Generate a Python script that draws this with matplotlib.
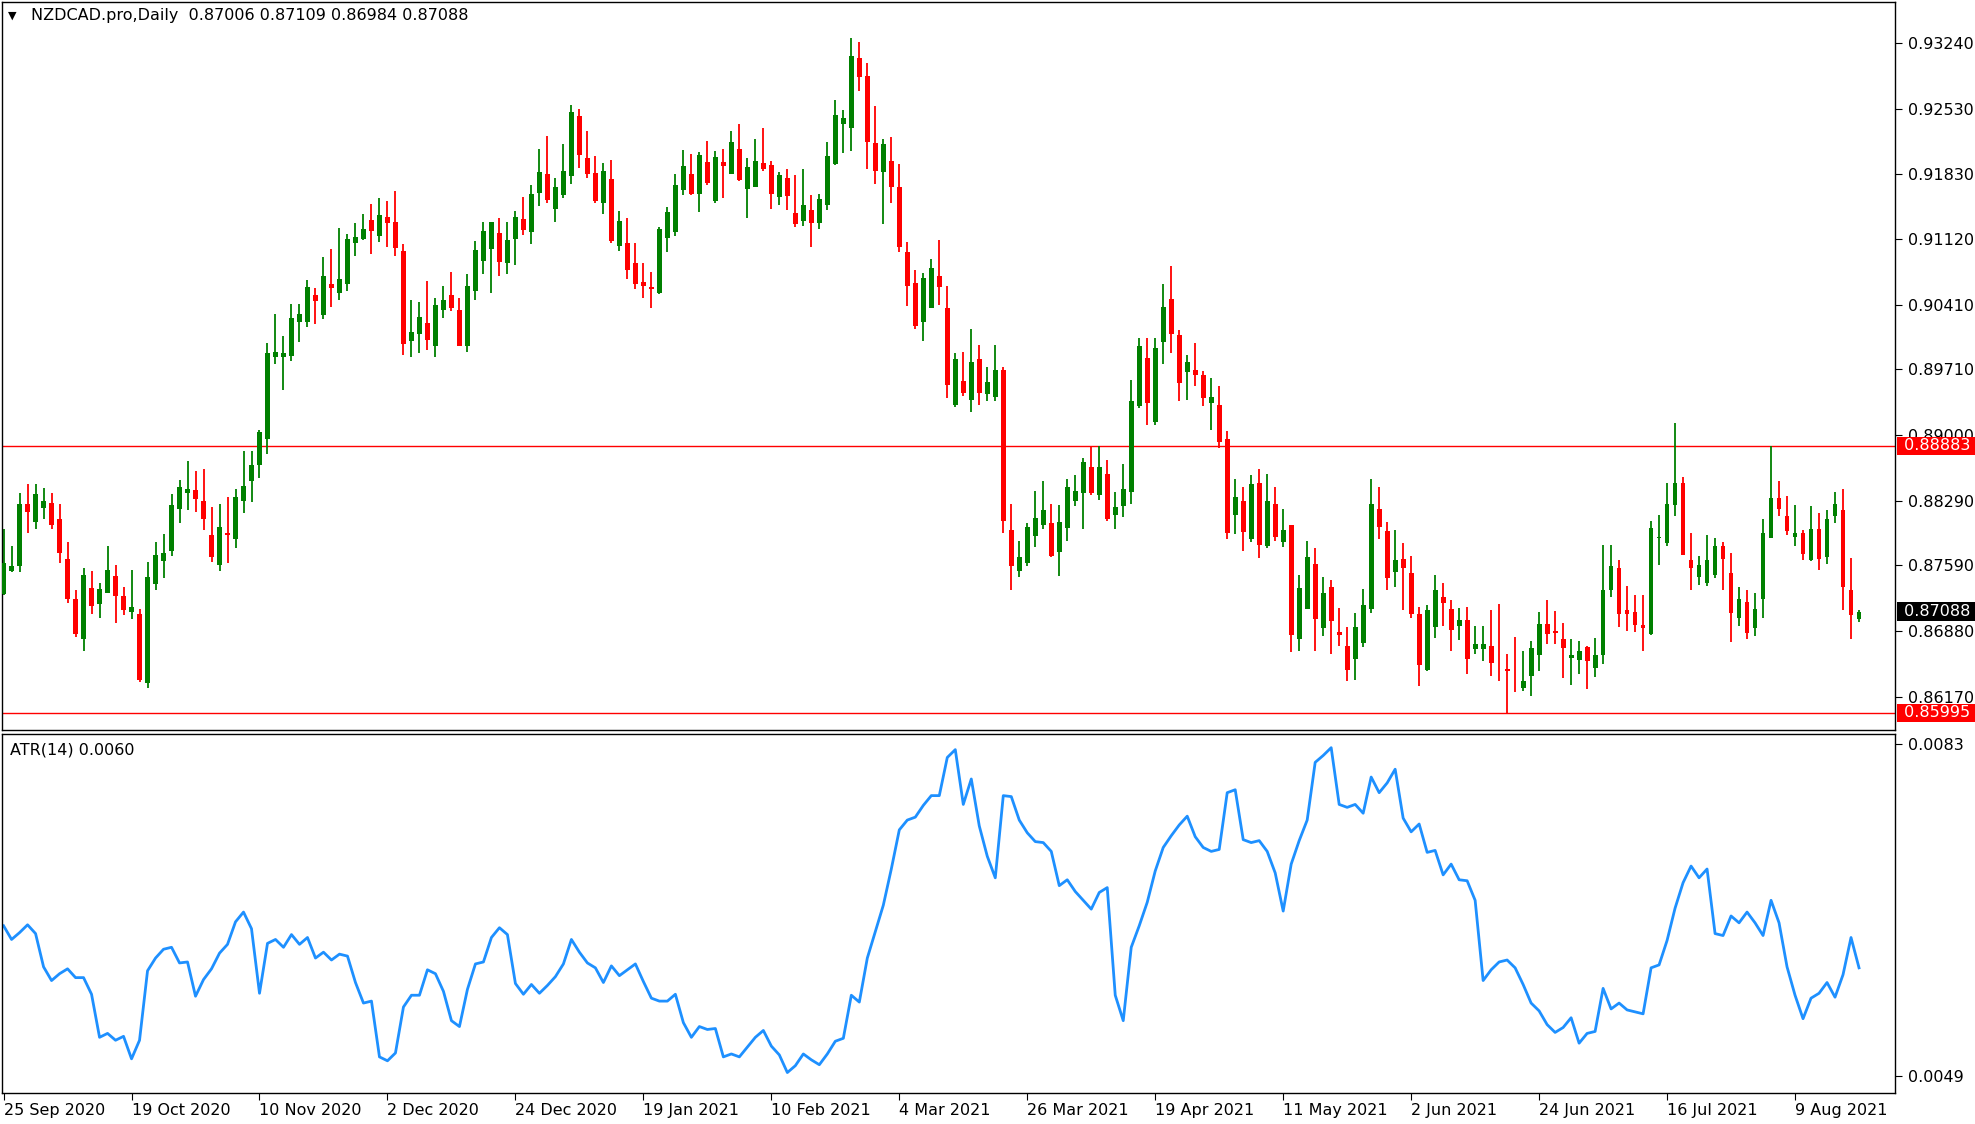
import matplotlib
matplotlib.use("Agg")
import matplotlib.pyplot as plt
import matplotlib.transforms as mtransforms
import numpy as np

# NZDCAD daily, prices in units of 0.0001
opens = [
    8728, 8753, 8758, 8825, 8806, 8821, 8827, 8809, 8766, 8723,
    8679, 8735, 8717, 8729, 8748, 8726, 8709, 8707, 8632, 8739,
    8764, 8775, 8820, 8837, 8841, 8829, 8792, 8759, 8794, 8788,
    8829, 8850, 8868, 8896, 8985, 8985, 8986, 9022, 9022, 9052,
    9030, 9064, 9054, 9063, 9108, 9112, 9133, 9115, 9136, 9131,
    9099, 9002, 9009, 9021, 8996, 9035, 9052, 9035, 8996, 9056,
    9088, 9101, 9119, 9086, 9112, 9134, 9120, 9162, 9182, 9145,
    9160, 9180, 9245, 9200, 9184, 9151, 9177, 9105, 9108, 9086,
    9066, 9060, 9054, 9113, 9120, 9165, 9183, 9161, 9195, 9153,
    9195, 9183, 9209, 9166, 9168, 9194, 9192, 9158, 9178, 9140,
    9132, 9143, 9129, 9149, 9193, 9237, 9232, 9308, 9289, 9216,
    9185, 9196, 9168, 9098, 9065, 9022, 9037, 9072, 9037, 8933,
    8959, 8938, 8982, 8944, 8941, 8970, 8797, 8753, 8762, 8791,
    8803, 8805, 8774, 8800, 8829, 8837, 8866, 8835, 8858, 8814,
    8823, 8838, 8932, 8983, 8914, 9001, 9047, 9008, 8968, 8970,
    8965, 8935, 8933, 8896, 8814, 8829, 8788, 8848, 8780, 8826,
    8784, 8803, 8679, 8712, 8761, 8691, 8736, 8687, 8672, 8658,
    8675, 8712, 8820, 8796, 8752, 8766, 8751, 8706, 8646, 8692,
    8725, 8712, 8694, 8700, 8669, 8669, 8672, 8654, 8647, 8641,
    8626, 8639, 8662, 8696, 8688, 8679, 8659, 8657, 8671, 8648,
    8662, 8733, 8756, 8711, 8709, 8695, 8685, 8789, 8783, 8824,
    8848, 8765, 8746, 8740, 8749, 8780, 8751, 8702, 8719, 8691,
    8723, 8789, 8832, 8812, 8790, 8794, 8765, 8798, 8768, 8813,
    8819, 8733, 8700.6,
]
highs = [
    8798, 8780, 8837, 8847, 8847, 8843, 8837, 8826, 8784, 8733,
    8756, 8753, 8740, 8780, 8759, 8736, 8754, 8712, 8763, 8784,
    8793, 8836, 8851, 8872, 8861, 8863, 8822, 8825, 8833, 8842,
    8883, 8883, 8906, 9000, 9031, 9007, 9042, 9042, 9068, 9059,
    9093, 9101, 9124, 9118, 9129, 9139, 9150, 9156, 9153, 9164,
    9107, 9046, 9044, 9067, 9048, 9061, 9076, 9048, 9074, 9110,
    9130, 9131, 9135, 9131, 9142, 9158, 9171, 9209, 9224, 9178,
    9215, 9257, 9253, 9229, 9202, 9194, 9198, 9142, 9135, 9108,
    9086, 9076, 9125, 9147, 9183, 9208, 9204, 9206, 9218, 9207,
    9210, 9229, 9237, 9200, 9220, 9232, 9196, 9185, 9188, 9181,
    9188, 9160, 9161, 9217, 9262, 9252, 9330, 9325, 9303, 9256,
    9220, 9222, 9193, 9109, 9079, 9075, 9090, 9111, 9061, 8989,
    8990, 9015, 8997, 8974, 8997, 8974, 8826, 8786, 8805, 8840,
    8850, 8826, 8824, 8853, 8857, 8875, 8888, 8888, 8873, 8839,
    8869, 8960, 9005, 9005, 9005, 9063, 9083, 9014, 8987, 9000,
    8969, 8962, 8953, 8905, 8853, 8844, 8857, 8863, 8858, 8844,
    8820, 8803, 8749, 8785, 8778, 8747, 8743, 8713, 8692, 8708,
    8734, 8853, 8844, 8806, 8797, 8783, 8769, 8714, 8716, 8749,
    8740, 8722, 8713, 8714, 8693, 8694, 8711, 8717, 8663, 8682,
    8666, 8677, 8709, 8722, 8710, 8697, 8679, 8677, 8672, 8681,
    8781, 8781, 8765, 8737, 8727, 8727, 8807, 8814, 8848, 8913,
    8855, 8794, 8769, 8792, 8789, 8784, 8773, 8736, 8733, 8729,
    8809, 8888, 8850, 8834, 8824, 8797, 8823, 8816, 8819, 8838,
    8842, 8767, 8710.9,
]
lows = [
    8727, 8752, 8752, 8794, 8799, 8809, 8799, 8762, 8718, 8682,
    8667, 8707, 8702, 8729, 8697, 8705, 8701, 8633, 8627, 8732,
    8745, 8769, 8805, 8819, 8817, 8797, 8763, 8753, 8762, 8778,
    8816, 8828, 8854, 8880, 8977, 8949, 8980, 9001, 9017, 9020,
    9026, 9039, 9046, 9056, 9094, 9111, 9096, 9109, 9104, 9094,
    8987, 8985, 8989, 8992, 8984, 9027, 9034, 8996, 8990, 9046,
    9074, 9054, 9072, 9074, 9084, 9116, 9107, 9148, 9151, 9131,
    9156, 9172, 9189, 9178, 9151, 9139, 9108, 9099, 9069, 9058,
    9048, 9038, 9053, 9098, 9115, 9160, 9160, 9141, 9171, 9151,
    9157, 9182, 9175, 9135, 9168, 9186, 9145, 9149, 9143, 9125,
    9126, 9104, 9123, 9143, 9192, 9205, 9207, 9272, 9188, 9172,
    9128, 9151, 9098, 9040, 9015, 9002, 9037, 9041, 8940, 8930,
    8942, 8925, 8933, 8937, 8937, 8794, 8733, 8747, 8758, 8779,
    8799, 8768, 8748, 8786, 8823, 8799, 8835, 8830, 8807, 8798,
    8811, 8825, 8929, 8911, 8911, 8977, 8989, 8937, 8938, 8953,
    8932, 8906, 8886, 8788, 8793, 8775, 8784, 8767, 8778, 8785,
    8779, 8665, 8666, 8712, 8667, 8683, 8663, 8672, 8634, 8635,
    8671, 8708, 8788, 8733, 8736, 8711, 8702, 8629, 8645, 8681,
    8693, 8666, 8678, 8642, 8663, 8656, 8639, 8634, 8599, 8622,
    8623, 8618, 8645, 8674, 8674, 8637, 8630, 8642, 8625, 8638,
    8652, 8725, 8692, 8688, 8687, 8666, 8684, 8760, 8780, 8812,
    8770, 8733, 8738, 8737, 8745, 8732, 8676, 8694, 8679, 8683,
    8702, 8789, 8812, 8792, 8780, 8765, 8764, 8754, 8761, 8805,
    8711, 8679, 8698.4,
]
closes = [
    8762, 8758, 8825, 8817, 8836, 8829, 8803, 8773, 8723, 8685,
    8749, 8715, 8734, 8754, 8726, 8711, 8714, 8635, 8747, 8770,
    8772, 8824, 8844, 8842, 8831, 8809, 8768, 8801, 8792, 8833,
    8845, 8868, 8903, 8989, 8990, 8989, 9027, 9031, 9060, 9045,
    9072, 9059, 9069, 9112, 9114, 9123, 9121, 9138, 9129, 9102,
    8999, 9012, 9028, 9003, 9041, 9046, 9038, 8996, 9061, 9100,
    9121, 9131, 9087, 9111, 9136, 9122, 9161, 9185, 9154, 9168,
    9186, 9249, 9203, 9182, 9153, 9186, 9110, 9132, 9079, 9063,
    9061, 9058, 9123, 9141, 9171, 9191, 9161, 9203, 9173, 9201,
    9191, 9217, 9176, 9190, 9196, 9188, 9161, 9181, 9159, 9128,
    9149, 9129, 9155, 9202, 9246, 9243, 9310, 9287, 9217, 9186,
    9215, 9168, 9104, 9061, 9018, 9070, 9081, 9060, 8954, 8982,
    8946, 8979, 8946, 8958, 8970, 8807, 8758, 8768, 8801, 8810,
    8819, 8769, 8806, 8844, 8840, 8871, 8837, 8866, 8809, 8822,
    8842, 8937, 8996, 8935, 8994, 9039, 9009, 8956, 8979, 8965,
    8940, 8941, 8893, 8794, 8833, 8795, 8847, 8781, 8829, 8790,
    8797, 8684, 8735, 8768, 8701, 8729, 8699, 8684, 8646, 8692,
    8716, 8825, 8801, 8745, 8765, 8756, 8706, 8651, 8711, 8732,
    8718, 8689, 8700, 8658, 8674, 8674, 8654, 8653, 8645, 8640,
    8634, 8670, 8696, 8685, 8686, 8670, 8662, 8667, 8656, 8662,
    8732, 8758, 8706, 8706, 8695, 8691, 8800, 8790, 8825, 8848,
    8770, 8756, 8760, 8765, 8780, 8766, 8708, 8723, 8686, 8712,
    8794, 8832, 8820, 8796, 8794, 8771, 8798, 8766, 8809, 8825,
    8736, 8705, 8708.8,
]
# ATR(14), units of 0.0001
atr = [
    64.4, 63.0, 63.7, 64.5, 63.6, 60.2, 58.8, 59.5, 60.0, 59.1,
    59.1, 57.4, 53.0, 53.4, 52.7, 53.1, 50.8, 52.7, 59.8, 61.1,
    62.0, 62.2, 60.6, 60.7, 57.2, 58.9, 60.0, 61.6, 62.5, 64.8,
    65.8, 64.1, 57.5, 62.6, 63.0, 62.2, 63.5, 62.5, 63.2, 61.1,
    61.7, 60.9, 61.5, 61.3, 58.6, 56.5, 56.7, 51.0, 50.6, 51.4,
    56.1, 57.3, 57.3, 59.9, 59.5, 57.7, 54.7, 54.1, 57.9, 60.5,
    60.7, 63.2, 64.2, 63.5, 58.5, 57.4, 58.4, 57.5, 58.3, 59.2,
    60.5, 63.0, 61.7, 60.6, 60.1, 58.6, 60.3, 59.3, 59.9, 60.5,
    58.7, 57.0, 56.7, 56.7, 57.4, 54.5, 53.0, 54.1, 53.8, 53.9,
    51.0, 51.3, 51.0, 52.0, 53.0, 53.7, 52.1, 51.2, 49.4, 50.1,
    51.3, 50.7, 50.2, 51.3, 52.6, 52.9, 57.3, 56.6, 61.1, 63.8,
    66.5, 70.2, 74.2, 75.2, 75.5, 76.7, 77.7, 77.7, 81.6, 82.4,
    76.8, 79.4, 74.6, 71.5, 69.3, 77.7, 77.6, 75.2, 73.9, 73.0,
    72.9, 72.0, 68.5, 69.1, 67.9, 67.0, 66.1, 67.8, 68.3, 57.3,
    54.7, 62.2, 64.4, 66.8, 70.0, 72.4, 73.6, 74.7, 75.6, 73.5,
    72.4, 72.0, 72.2, 78.0, 78.3, 73.2, 72.9, 73.1, 72.0, 69.8,
    65.9, 70.7, 73.1, 75.2, 81.1, 81.8, 82.6, 76.8, 76.5, 76.8,
    75.9, 79.6, 78.0, 79.0, 80.4, 75.4, 74.0, 74.8, 71.9, 72.1,
    69.6, 70.7, 69.1, 69.0, 67.0, 58.8, 59.9, 60.7, 60.9, 60.1,
    58.4, 56.5, 55.7, 54.3, 53.5, 54.0, 55.0, 52.4, 53.4, 53.6,
    58.0, 55.9, 56.5, 55.8, 55.6, 55.4, 60.1, 60.4, 62.9, 66.2,
    68.8, 70.5, 69.3, 70.2, 63.6, 63.4, 65.4, 64.7, 65.8, 64.7,
    63.4, 67.0, 64.7, 60.2, 57.3, 54.9, 57.0, 57.5, 58.6, 57.1,
    59.4, 63.2, 60.1,
]

date_labels = ['25 Sep 2020', '19 Oct 2020', '10 Nov 2020', '2 Dec 2020', '24 Dec 2020',
               '19 Jan 2021', '10 Feb 2021', '4 Mar 2021', '26 Mar 2021', '19 Apr 2021',
               '11 May 2021', '2 Jun 2021', '24 Jun 2021', '16 Jul 2021', '9 Aug 2021']
price_ticks = [0.93240, 0.92530, 0.91830, 0.91120, 0.90410, 0.89710, 0.89000,
               0.88290, 0.87590, 0.86880, 0.86170]
atr_ticks = [0.0083, 0.0049]
hlines = [0.88883, 0.85995]

o = np.array(opens) / 1e4
h = np.array(highs) / 1e4
l = np.array(lows) / 1e4
c = np.array(closes) / 1e4
a = np.array(atr) / 1e4
x = np.arange(len(c))

GREEN = '#008000'
RED = '#ff0000'
FS = 11.5

plt.rcParams['font.family'] = ['DejaVu Sans']
fig = plt.figure(figsize=(19.75, 11.24), dpi=100)
ax = fig.add_axes([0.001, 0.3505, 0.9585, 0.6473])
ax2 = fig.add_axes([0.001, 0.0275, 0.9585, 0.3195])

# candles
up = c >= o
cols = np.where(up, GREEN, RED)
ax.vlines(x, l, h, colors=cols, linewidth=1.3, zorder=2)
body_lo = np.minimum(o, c)
body_h = np.maximum(np.abs(c - o), 0.00008)
ax.bar(x, body_h, bottom=body_lo, width=0.6, color=cols, linewidth=0, zorder=3)

for v in hlines:
    ax.axhline(v, color=RED, linewidth=1.0, zorder=1)

ax.set_xlim(-0.2, 236.5)
ax.set_ylim(0.8581, 0.9368)
ax.yaxis.tick_right()
ax.set_yticks(price_ticks)
ax.set_yticklabels([f'{t:.5f}' for t in price_ticks], fontsize=FS)
ax.tick_params(axis='y', direction='out', length=5, pad=4)
ax.set_xticks([])

# price boxes on the right scale
trans = mtransforms.blended_transform_factory(ax.transAxes, ax.transData)
box_items = [(hlines[0], RED), (hlines[1], RED), (c[-1], 'black')]
for val, fc in box_items:
    ax.text(1.002, val, f' {val:.5f} ', transform=trans, ha='left', va='center',
            fontsize=FS, color='white', clip_on=False, zorder=5,
            bbox=dict(boxstyle='square,pad=0.12', facecolor=fc, edgecolor='none'))

fig.text(0.004, 0.986, '\u25BC', fontsize=8, va='center', ha='left')
fig.text(0.0155, 0.986,
         f'NZDCAD.pro,Daily  {o[-1]:.5f} {h[-1]:.5f} {l[-1]:.5f} {c[-1]:.5f}',
         fontsize=FS, va='center', ha='left')

# ATR panel
ax2.plot(x, a, color='#1e90ff', linewidth=2.0)
ax2.set_xlim(-0.2, 236.5)
ax2.set_ylim(0.00473, 0.00840)
ax2.yaxis.tick_right()
ax2.set_yticks(atr_ticks)
ax2.set_yticklabels([f'{t:.4f}' for t in atr_ticks], fontsize=FS)
ax2.tick_params(axis='y', direction='out', length=5, pad=4)
ax2.set_xticks(np.arange(len(date_labels)) * 16)
ax2.set_xticklabels(date_labels, fontsize=FS, ha='left')
ax2.tick_params(axis='x', direction='out', length=5, pad=2)
ax2.text(0.004, 0.955, f'ATR(14) {a[-1]:.4f}', transform=ax2.transAxes,
         fontsize=FS, va='center', ha='left')

for axx in (ax, ax2):
    for s in axx.spines.values():
        s.set_color('black')
        s.set_linewidth(1.0)

fig.savefig('out.png', dpi=100, facecolor='white')
